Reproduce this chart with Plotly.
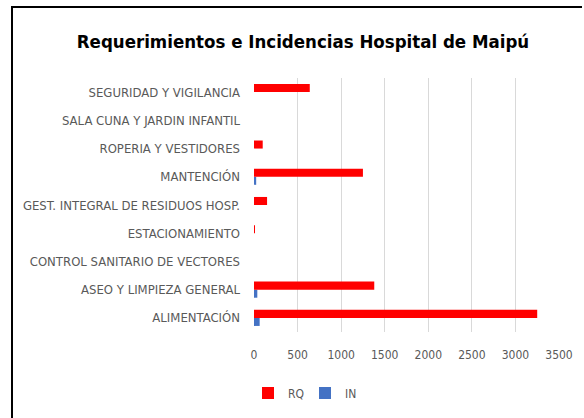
import plotly.graph_objects as go

categories = [
    "ALIMENTACIÓN",
    "ASEO Y LIMPIEZA GENERAL",
    "CONTROL SANITARIO DE VECTORES",
    "ESTACIONAMIENTO",
    "GEST. INTEGRAL DE RESIDUOS HOSP.",
    "MANTENCIÓN",
    "ROPERIA Y VESTIDORES",
    "SALA CUNA Y JARDIN INFANTIL",
    "SEGURIDAD Y VIGILANCIA",
]
rq_values = [3250, 1380, 0, 10, 150, 1250, 100, 0, 640]
in_values = [65, 38, 0, 0, 0, 25, 0, 0, 0]
x_ticks = [0, 500, 1000, 1500, 2000, 2500, 3000, 3500]

W, H = 584, 418
L, R, T, B = 254, 25, 78, 86
pw, ph = W - L - R, H - T - B

def px_x(p):
    return (p - L) / pw

def px_y(p):
    return (H - B - p) / ph

FONT = "DejaVu Sans Condensed, sans-serif"
GRAY = "#595959"

fig = go.Figure()
fig.add_trace(go.Bar(name="IN", y=categories, x=in_values, orientation="h",
                     marker=dict(color="#4472C4", line=dict(width=0)), legendrank=2))
fig.add_trace(go.Bar(name="RQ", y=categories, x=rq_values, orientation="h",
                     marker=dict(color="#FF0000", line=dict(width=0)), legendrank=1))

frame_path = "M {:.5f},{:.5f} L {:.5f},{:.5f} L {:.5f},{:.5f}".format(
    px_x(12), px_y(H), px_x(12), px_y(7), px_x(W - 2), px_y(7))

fig.update_layout(
    width=W, height=H,
    margin=dict(l=L, r=R, t=T, b=B, pad=0, autoexpand=False),
    paper_bgcolor="white", plot_bgcolor="white",
    barmode="group", bargap=0.43, bargroupgap=0,
    title=dict(text="<b>Requerimientos e Incidencias Hospital de Maipú</b>",
               x=303 / W, xref="container", xanchor="center",
               y=1 - 42 / H, yref="container", yanchor="middle",
               font=dict(family=FONT, size=18.5, color="black")),
    font=dict(family=FONT, size=13, color=GRAY),
    showlegend=True,
    legend=dict(orientation="h", x=305 / W, xref="container", xanchor="center",
                y=1 - 393 / H, yref="container", yanchor="middle",
                font=dict(family=FONT, size=12, color=GRAY),
                itemwidth=30, entrywidth=12, entrywidthmode="pixels",
                bgcolor="rgba(0,0,0,0)"),
    xaxis=dict(range=[0, 3500], tickvals=x_ticks, showgrid=True,
               gridcolor="#d9d9d9", gridwidth=1, zeroline=False,
               showline=False, ticks="", tickfont=dict(size=12, color=GRAY),
               ticklabelstandoff=14,
               fixedrange=True, automargin=False),
    yaxis=dict(type="category", categoryorder="array", categoryarray=categories,
               showgrid=False, showline=False, ticks="", zeroline=False,
               ticklabelstandoff=13, tickfont=dict(size=13, color=GRAY),
               fixedrange=True, automargin=False),
    shapes=[
        dict(type="path", xref="paper", yref="paper", path=frame_path,
             line=dict(color="black", width=2), fillcolor="rgba(0,0,0,0)",
             layer="above"),
    ],
)

fig.write_html(
    "out.html",
    config={"displayModeBar": False},
    post_script=(
        "document.body.style.margin='0';"
        "document.body.style.overflow='hidden';"
        "document.documentElement.style.overflow='hidden';"
    ),
)
